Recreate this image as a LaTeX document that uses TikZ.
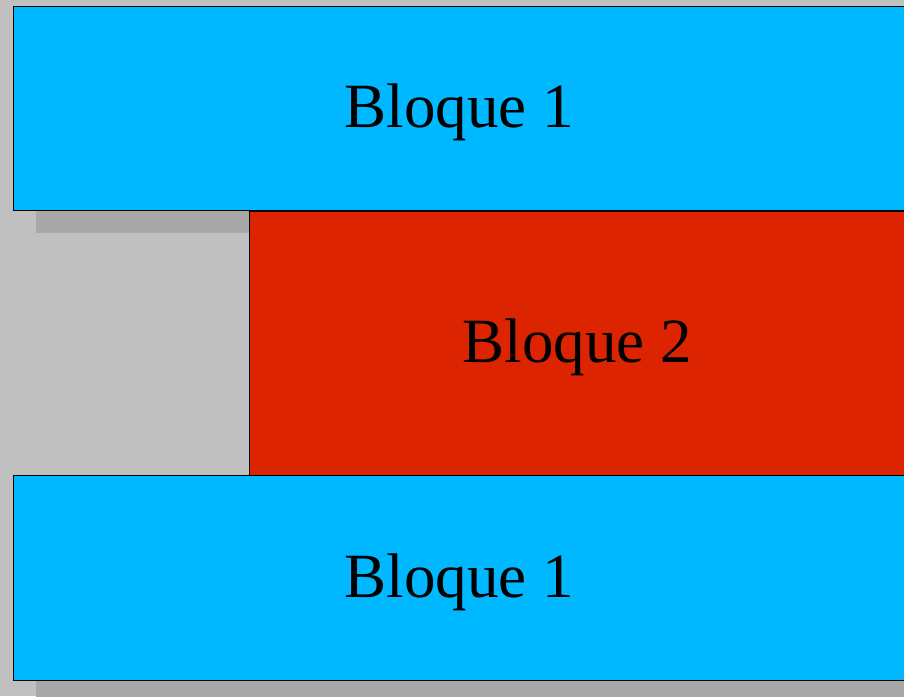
\documentclass[tikz,border=0pt]{standalone}
\usepackage{fontspec}
\setmainfont{Liberation Serif}
\usetikzlibrary{shadows}
\definecolor{bggray}{HTML}{C0C0C0}
\definecolor{shgray}{HTML}{A8A8A8}
\definecolor{bblue}{HTML}{00B8FF}
\definecolor{bred}{HTML}{DC2400}
\newcommand{\blktext}[1]{\raisebox{0pt}[52pt][13pt]{#1}}
\tikzset{
  blk/.style={draw=black, line width=0.9pt, anchor=north west, inner sep=0pt,
    font=\fontsize{63}{70}\selectfont,
    drop shadow={shadow xshift=23pt, shadow yshift=-23pt, opacity=1, fill=shgray}},
  bluebox/.style={blk, fill=bblue},
  redbox/.style={blk, fill=bred}
}
\begin{document}
\begin{tikzpicture}[x=1pt,y=-1pt]
\useasboundingbox (0,0) rectangle (904,696);
\clip (0,0) rectangle (904,696);
\fill[bggray] (0,0) rectangle (904,696);
\node[bluebox, minimum width=892pt, minimum height=204pt] (b1) at (13,6) {\blktext{Bloque 1}};
\node[redbox, minimum width=656pt, minimum height=264pt] (b2) at (249,211) {\blktext{Bloque 2}};
\node[bluebox, minimum width=892pt, minimum height=205pt] (b3) at (13,475) {\blktext{Bloque 1}};
\end{tikzpicture}
\end{document}
